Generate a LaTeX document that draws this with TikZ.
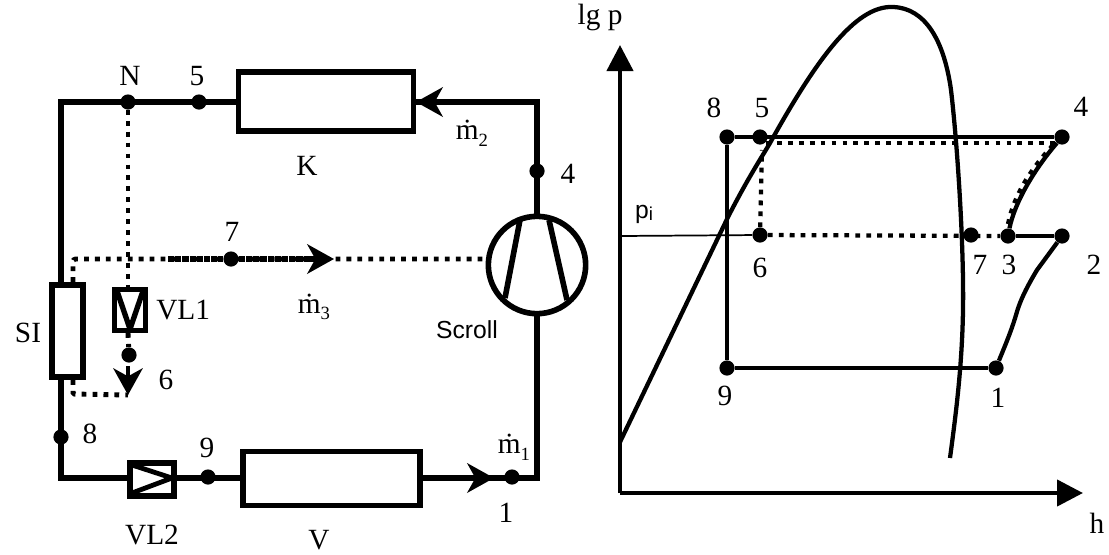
\documentclass[tikz,border=0pt]{standalone}
\usepackage{fontspec}
\setmainfont{Liberation Serif}
\newfontfamily\arialf{Liberation Sans}
\usetikzlibrary{arrows.meta,calc}
\tikzset{
  pipe/.style={line width=4.5pt,line join=miter},
  dotline/.style={line width=3.7pt,dash pattern=on 3.6pt off 4.6pt},
  chartdot/.style={line width=3.2pt,dash pattern=on 3.6pt off 4.6pt},
  densedot/.style={line width=3.8pt,dash pattern=on 4.6pt off 0.8pt},
  comp/.style={draw,line width=4.2pt,fill=white,inner sep=0pt,minimum width=0pt},
  pt/.style={circle,fill=black,inner sep=0pt,minimum size=11.4pt},
  lab/.style={font=\fontsize{22}{26}\selectfont,inner sep=0pt},
  lbs/.style={font=\arialf\fontsize{18.5}{22}\selectfont,inner sep=0pt},
  chart/.style={line width=3.2pt},
  stealthhead/.style={-{Stealth[length=20pt,width=22pt,inset=6pt]}}
}
\newcommand{\mdotlab}[1]{\.{m}\raisebox{-5pt}{\fontsize{14}{16}\selectfont #1}}
\begin{document}
\begin{tikzpicture}[x=0.75pt,y=-0.75pt]
\useasboundingbox (0,0) rectangle (1109,554);
% corners
\coordinate (tl) at (61,102);
\coordinate (tr) at (537,102);
\coordinate (br) at (537,478);
\coordinate (bl) at (61,478);
\coordinate (ctop) at (537,214);
\coordinate (cbot) at (537,316);
\coordinate (siT) at (61,282);
\coordinate (siB) at (61,380);
\coordinate (dA) at (73,282);
\coordinate (dB) at (73,259);
\coordinate (dC) at (73,380);
\coordinate (dD) at (73,394);
\coordinate (tip6) at (128,395);
% dotted lines (left)
\node[pt] (N) at (128,102) {};
\node[pt] (n7) at (231,259) {};
\node[pt] (n6) at (129,355) {};
\coordinate (scrollL) at (488,259);
\coordinate (arrowT) at (334,259);
\coordinate (dense1) at (168,259);
\coordinate (dense2) at (312,259);
\coordinate (vl1T) at (128,287);
\coordinate (vl1B) at (128,333);
\draw[dotline,rounded corners=2pt] (dA) -- (dB) -- (scrollL);
\draw[densedot] (dense1) -- (n7) -- (dense2);
\draw[dotline] (N) -- (vl1T);
\draw[dotline] (vl1B) -- (n6);
\draw[dotline,rounded corners=1pt] (dC) -- (dD) -- (tip6);
% solid pipes
\draw[pipe] (siT) -- (tl) -- (tr) -- (ctop);
\draw[pipe] (cbot) -- (br) -- (bl) -- (siB);
% components
\node[comp,minimum width=131.5pt,minimum height=44.5pt] (K) at (326,101.5) {};
\node[comp,minimum width=132.5pt,minimum height=40.5pt] (V) at (331.5,478.5) {};
\node[comp,minimum width=23.5pt,minimum height=69pt] (SI) at (67.5,331) {};
\node[comp,minimum width=23.5pt,minimum height=31pt] (VL1) at (130,310) {};
\coordinate (a1) at (117,291);
\coordinate (a2) at (130,329);
\coordinate (a3) at (143,291);
\draw[line width=4pt,line join=miter,miter limit=2] (a1) -- (a2) -- (a3);
\node[comp,minimum width=33pt,minimum height=25pt] (VL2) at (152,479.5) {};
\coordinate (b1) at (132,465);
\coordinate (b2) at (172,478);
\coordinate (b3) at (132,493);
\draw[line width=3.6pt,line join=miter,miter limit=2] (b1) -- (b2) -- (b3);
% scroll
\node[circle,draw,line width=4.2pt,fill=white,minimum size=73pt,inner sep=0pt] (S) at (537,265) {};
\coordinate (s1) at (520,220);
\coordinate (s2) at (505,298);
\coordinate (s3) at (549,220);
\coordinate (s4) at (567,300);
\draw[line width=4.2pt] (s1) -- (s2);
\draw[line width=4.2pt] (s3) -- (s4);
% arrows
\coordinate (a2s) at (445,102);
\coordinate (a2e) at (416,102);
\coordinate (a1s) at (460,478);
\coordinate (a1e) at (494,478);
\coordinate (a3s) at (305,259);
\coordinate (a6s) at (128,366);
\draw[line width=4.2pt,stealthhead] (a2s) -- (a2e);
\draw[line width=4.2pt,stealthhead] (a1s) -- (a1e);
\draw[line width=3.8pt,stealthhead] (a3s) -- (arrowT);
\draw[line width=3pt,stealthhead] (a6s) -- (tip6);
% points left
\node[pt] (n5) at (199,102) {};
\node[pt] (n4) at (537,171) {};
\node[pt] (n8) at (61,437) {};
\node[pt] (n9) at (208,477) {};
\node[pt] (n1) at (512,477) {};
% labels left
\node[lab] (lN) at (130,76) {N};
\node[lab] (l5) at (197,76) {5};
\node[lab] (lK) at (307,166) {K};
\node[lab] (l4) at (568,174) {4};
\node[lab] (l7) at (232,232) {7};
\node[lab] (lSI) at (28,333) {SI};
\node[lab,anchor=west] (lVL1) at (156,310) {VL1};
\node[lab] (l6) at (166,380) {6};
\node[lab] (l8) at (90,434) {8};
\node[lab] (l9) at (207,448) {9};
\node[lab] (lVL2) at (152,535) {VL2};
\node[lab] (lV) at (319,540) {V};
\node[lab] (l1) at (506,513) {1};
\node[lab] (m2) at (472,133) {\mdotlab{2}};
\node[lab] (m3) at (314,307) {\mdotlab{3}};
\node[lab] (m1) at (514,447) {\mdotlab{1}};
\node[lbs] (lS) at (467,330) {Scroll};
% right: axes
\coordinate (O) at (620,493);
\coordinate (Yt) at (620,45);
\coordinate (Xt) at (1083,493);
\draw[chart,-{Triangle[length=19.5pt,width=19.5pt]}] (O) -- (Yt);
\draw[chart,-{Triangle[length=19.5pt,width=19.5pt]}] (O) -- (Xt);
\node[lab] (lgp) at (600,17) {lg p};
\node[lab] (lh) at (1097,523) {h};
% saturation curve
\draw[chart] (620,442) -- (728,217) .. controls (748,178) and (760,160) .. (770,143) .. controls (815,62) and (855,5) .. (893,7)
 .. controls (925,8) and (944,40) .. (951,90) .. controls (958,150) and (964,250) .. (963,310) .. controls (962,370) and (955,420) .. (950,458);
% points right
\node[pt] (p8) at (727,137) {};
\node[pt] (p5) at (760,137) {};
\node[pt] (p4) at (1062,137) {};
\node[pt] (p6) at (760,235) {};
\node[pt] (p7) at (971,235) {};
\node[pt] (p3) at (1008,236) {};
\node[pt] (p2) at (1062,236) {};
\node[pt] (p1) at (996,368) {};
\node[pt] (p9) at (727,368) {};
\coordinate (pi0) at (620,236);
\coordinate (d45) at (1056,143);
\coordinate (d5c) at (766,143);
\coordinate (d5v) at (762,150);
\draw[line width=1.3pt] (pi0) -- (p6);
\draw[chart] (p9) -- (p8) -- (p4);
\draw[line width=2.4pt] (p9) -- (p1);
\draw[chart] (p3) -- (p2);
\draw[chart] (p2) -- (1037,270) .. controls (1028,285) and (1020,300) .. (1016,315) .. controls (1011,332) and (1004,348) .. (p1);
\draw[chart] (p3) .. controls (1014,205) and (1032,172) .. (p4);
\coordinate (d3a) at (1008,224);
\coordinate (d4a) at (1053,145);
\draw[chartdot] (d5c) -- (d45);
\draw[chartdot] (p6) -- (d5v);
\draw[chartdot] (p6) -- (p3);
\draw[chartdot] (d3a) .. controls (1014,195) and (1030,170) .. (d4a);
% labels right
\node[lab] (q8) at (714,108) {8};
\node[lab] (q5) at (762,108) {5};
\node[lab] (q4) at (1081,107) {4};
\node[lab] (q6) at (760,268) {6};
\node[lab] (q7) at (980,265) {7};
\node[lab] (q3) at (1009,265) {3};
\node[lab] (q2) at (1094,265) {2};
\node[lab] (q1) at (998,398) {1};
\node[lab] (q9) at (725,396) {9};
\node[lbs] (qp) at (644,214) {p\raisebox{-2pt}{\fontsize{14}{16}\selectfont i}};
\end{tikzpicture}
\end{document}
